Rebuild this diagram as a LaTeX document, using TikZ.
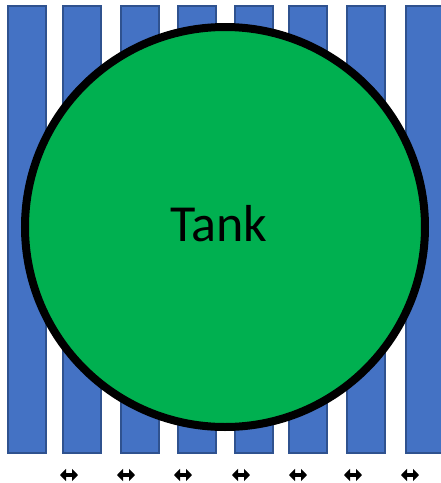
\documentclass[tikz,border=0pt]{standalone}
\usepackage{fontspec}
\setmainfont{Carlito}
\usetikzlibrary{arrows.meta}
\definecolor{barblue}{HTML}{4472C4}
\definecolor{baredge}{HTML}{2F528F}
\definecolor{tankgreen}{HTML}{00B050}
\tikzset{
  barbox/.style={fill=barblue, draw=baredge, line width=1.5pt},
  tankshape/.style={circle, fill=tankgreen, draw=black, line width=8pt, minimum size=400pt, inner sep=0pt},
  gaparrow/.style={line width=4pt, {Triangle[width=12pt,length=6pt]}-{Triangle[width=12pt,length=6pt]}}
}
\begin{document}
\begin{tikzpicture}[x=1pt,y=-1pt]
\useasboundingbox (0,0) rectangle (441,483);
\foreach \i/\xs in {1/8,2/63,3/121,4/178,5/235,6/289,7/347,8/406}{
  \draw[barbox] (\xs,6) rectangle ++(38,447);
}
\node[tankshape] (tank) at (225,227) {};
\node[font=\fontsize{52pt}{62pt}\selectfont] (label) at (219,224) {Tank};
\foreach \i/\xc in {1/69,2/126,3/183,4/241,5/298,6/353,7/410}{
  \coordinate (al\i) at (\xc-9,475);
  \coordinate (ar\i) at (\xc+9,475);
  \draw[gaparrow] (al\i) -- (ar\i);
}
\end{tikzpicture}
\end{document}
